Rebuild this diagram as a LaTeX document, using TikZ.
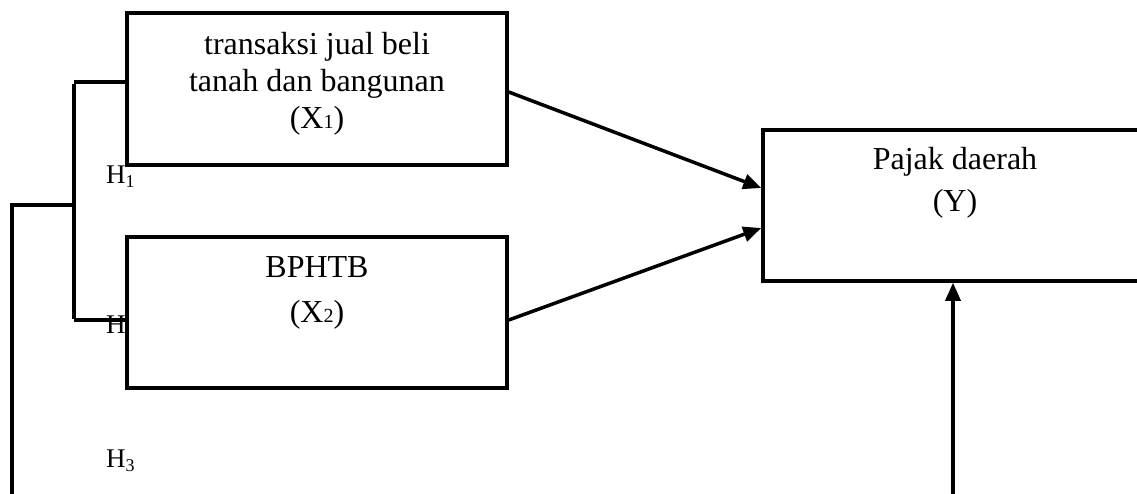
\documentclass[tikz,border=0pt]{standalone}
\usepackage{fontspec}
\setmainfont{Liberation Serif}
\usetikzlibrary{arrows.meta,calc}
\newcommand{\smalldig}[1]{{\fontsize{20}{20}\selectfont #1}}
\newcommand{\hsub}[1]{H\raisebox{-4.5pt}{\fontsize{18}{18}\selectfont #1}}
\begin{document}
\begin{tikzpicture}[x=1pt,y=-1pt,
  box/.style={draw,fill=white,line width=3.5pt,rectangle,inner sep=0pt},
  txt/.style={align=center,inner sep=0pt},
  hlab/.style={anchor=base west,inner sep=0pt,font=\fontsize{27}{27}\selectfont},
  conn/.style={line width=3.5pt},
  arr/.style={line width=3.5pt,-{Triangle[length=18pt,width=15pt]}}]
\useasboundingbox (0,0) rectangle (1137,493);
\clip (0,0) rectangle (1137,493);
% hypothesis labels
\node[hlab] (h1) at (106,183) {\hsub{1}};
\node[hlab] (h2) at (106,333) {\hsub{2}};
\node[hlab] (h3) at (106,467) {\hsub{3}};
% bracket coordinates
\coordinate (bt) at (74,82);
\coordinate (bb) at (74,321);
\coordinate (bm) at (74,205);
\coordinate (lm) at (12,205);
\coordinate (lb) at (12,500);
\coordinate (ab) at (953,500);
% boxes
\node[box,minimum width=380pt,minimum height=152pt] (x1) at (317,89) {};
\node[box,minimum width=380pt,minimum height=151pt] (x2) at (317,312.5) {};
\node[box,minimum width=420pt,minimum height=151pt] (y) at (973,205.5) {};
% texts
\node[txt,font=\fontsize{32}{37}\selectfont] (t1) at (317,84) {transaksi jual beli\\tanah dan bangunan\\(X\smalldig{1})};
\node[txt,font=\fontsize{32}{45}\selectfont] (t2) at (317,292.5) {BPHTB\\(X\smalldig{2})};
\node[txt,font=\fontsize{32}{42}\selectfont] (ty) at (955,183) {Pajak daerah\\(Y)};
% bracket lines
\draw[conn] ([yshift=-1.75pt]bt) -- ([yshift=1.75pt]bb);
\draw[conn] (bt) -- (bt -| x1.west);
\draw[conn] (74,320) -- (x2.west |- 0,320);
\draw[conn] (lb) -- (lm) -- (bm);
% arrows
\draw[arr] (x1.east |- 0,92) -- (y.west |- 0,188);
\draw[arr] (x2.east |- 0,320) -- (y.west |- 0,228);
\draw[arr] (ab) -- (y.south -| ab);
\end{tikzpicture}
\end{document}
